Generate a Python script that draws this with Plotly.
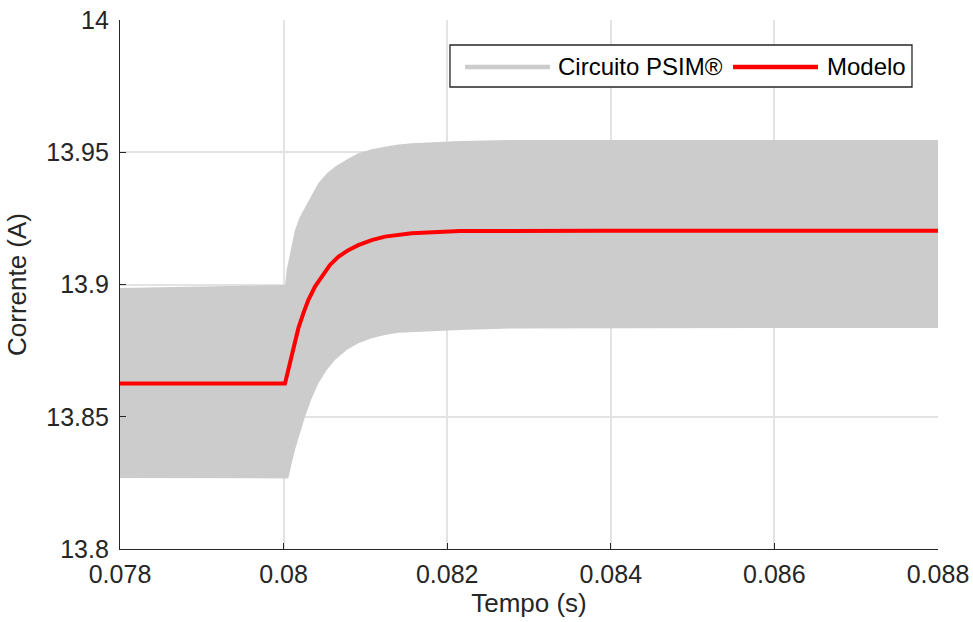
import plotly.graph_objects as go

# ---- data ----
# ripple envelope of the PSIM circuit current (switching band)
upper_t = [0.078, 0.080017, 0.080037, 0.080078, 0.080139, 0.080200, 0.080262, 0.080344,
           0.080424, 0.080527, 0.080628, 0.080771, 0.080913, 0.081077, 0.081240, 0.081402,
           0.081566, 0.082157, 0.082768, 0.0840, 0.088]
upper_i = [13.8987, 13.8998, 13.9055, 13.9118, 13.9206, 13.9256, 13.9294, 13.9338,
           13.9383, 13.9420, 13.9445, 13.9473, 13.9496, 13.9511, 13.9521, 13.9529,
           13.9534, 13.9543, 13.9546, 13.9546, 13.9546]
lower_t = [0.078, 0.080057, 0.080099, 0.080139, 0.080200, 0.080262, 0.080344, 0.080424,
           0.080527, 0.080628, 0.080771, 0.080913, 0.081077, 0.081240, 0.081402, 0.081566,
           0.082157, 0.082768, 0.0840, 0.088]
lower_i = [13.8268, 13.8267, 13.8324, 13.8374, 13.8437, 13.8500, 13.8570, 13.8626,
           13.8677, 13.8715, 13.8752, 13.8778, 13.8797, 13.8809, 13.8818, 13.8822,
           13.8828, 13.8834, 13.8836, 13.8836]

# averaged model current
model_t = [0.078, 0.080017, 0.080057, 0.080099, 0.080139, 0.080180, 0.080241, 0.080302,
           0.080384, 0.080466, 0.080567, 0.080669, 0.080791, 0.080913, 0.081077, 0.081240,
           0.081402, 0.081566, 0.082157, 0.082768, 0.083868, 0.088]
model_i = [13.8626, 13.8626, 13.8677, 13.8727, 13.8784, 13.8834, 13.8891, 13.8941,
           13.8992, 13.9030, 13.9074, 13.9105, 13.9130, 13.9149, 13.9168, 13.9181,
           13.9188, 13.9194, 13.9202, 13.9203, 13.9203, 13.9203]

x_ticks = [0.078, 0.080, 0.082, 0.084, 0.086, 0.088]
x_ticklabels = ["0.078", "0.08", "0.082", "0.084", "0.086", "0.088"]
y_ticks = [13.8, 13.85, 13.9, 13.95, 14.0]
y_ticklabels = ["13.8", "13.85", "13.9", "13.95", "14"]

legend_names = ["Circuito PSIM®", "Modelo"]
GRAY = "#cccccc"
RED = "#ff0000"
TXT = "#262626"
FONT = "Liberation Sans, Arial, sans-serif"

fig = go.Figure()
fig.add_trace(go.Scatter(x=upper_t + lower_t[::-1], y=upper_i + lower_i[::-1],
                         mode="lines", line=dict(width=0, color=GRAY), fill="toself",
                         fillcolor=GRAY, name=legend_names[0], showlegend=False))
fig.add_trace(go.Scatter(x=model_t, y=model_i, mode="lines",
                         line=dict(width=4, color=RED),
                         name=legend_names[1], showlegend=False))

# custom legend (paper coordinates)
shapes = [
    dict(type="rect", xref="paper", yref="paper", x0=0.4034, x1=0.9682, y0=0.8733, y1=0.9527,
         line=dict(color=TXT, width=1.3), fillcolor="white", layer="above"),
    dict(type="line", xref="paper", yref="paper", x0=0.4218, x1=0.5257, y0=0.9113, y1=0.9113,
         line=dict(color=GRAY, width=4.5), layer="above"),
    dict(type="line", xref="paper", yref="paper", x0=0.7494, x1=0.8533, y0=0.9113, y1=0.9113,
         line=dict(color=RED, width=4.5), layer="above"),
]
annotations = [
    dict(xref="paper", yref="paper", x=0.5330, y=0.9113, text=legend_names[0],
         showarrow=False, xanchor="left", yanchor="middle",
         font=dict(family=FONT, size=24, color="black")),
    dict(xref="paper", yref="paper", x=0.8620, y=0.9113, text=legend_names[1],
         showarrow=False, xanchor="left", yanchor="middle",
         font=dict(family=FONT, size=24, color="black")),
]

fig.update_layout(
    width=973, height=622,
    margin=dict(l=120, r=35, t=20, b=73),
    paper_bgcolor="white", plot_bgcolor="white",
    font=dict(family=FONT, size=25, color=TXT),
    shapes=shapes, annotations=annotations,
    showlegend=False,
)
fig.update_xaxes(range=[0.078, 0.088], tickvals=x_ticks, ticktext=x_ticklabels,
                 automargin=False,
                 showgrid=True, gridcolor="#e3e3e3", gridwidth=1.5,
                 showline=True, linecolor=TXT, linewidth=1.3, mirror=False,
                 ticks="inside", ticklen=6, tickcolor=TXT, zeroline=False,
                 tickfont=dict(size=25, color=TXT), ticklabelstandoff=3,
                 title=dict(text="Tempo (s)", font=dict(size=26, color=TXT), standoff=4))
fig.update_yaxes(range=[13.8, 14.0], tickvals=y_ticks, ticktext=y_ticklabels,
                 automargin=False,
                 showgrid=True, gridcolor="#e3e3e3", gridwidth=1.5,
                 showline=True, linecolor=TXT, linewidth=1.3, mirror=False,
                 ticks="inside", ticklen=6, tickcolor=TXT, zeroline=False,
                 tickfont=dict(size=25, color=TXT), ticklabelstandoff=5,
                 title=dict(text="Corrente (A)", font=dict(size=26, color=TXT), standoff=12))

fig.write_html("out.html")
